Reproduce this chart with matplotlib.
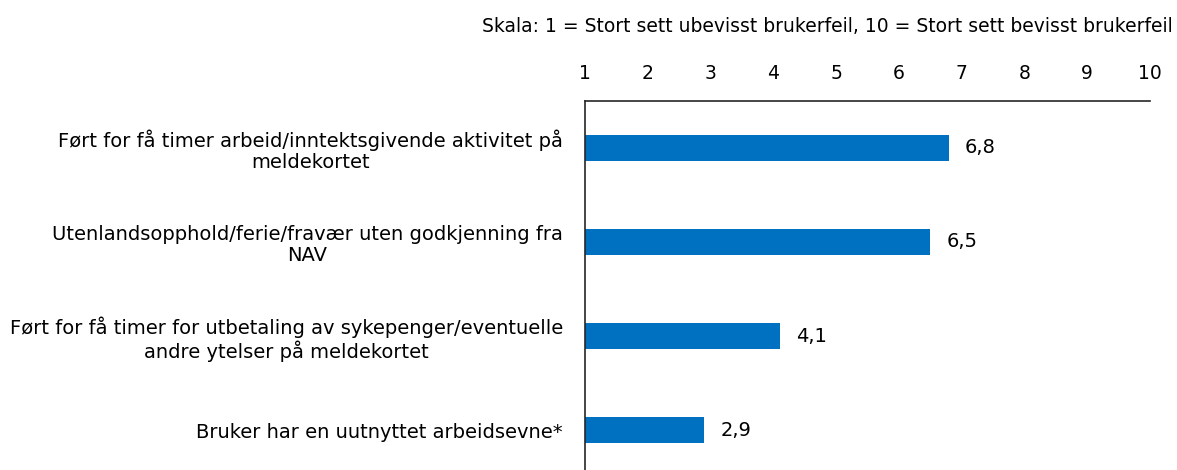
import matplotlib
matplotlib.use("Agg")
import matplotlib.pyplot as plt

categories = [
    "Ført for få timer arbeid/inntektsgivende aktivitet på\nmeldekortet",
    "Utenlandsopphold/ferie/fravær uten godkjenning fra\nNAV",
    "Ført for få timer for utbetaling av sykepenger/eventuelle\nandre ytelser på meldekortet",
    "Bruker har en uutnyttet arbeidsevne*",
]
values = [6.8, 6.5, 4.1, 2.9]
ticks = list(range(1, 11))
title = "Skala: 1 = Stort sett ubevisst brukerfeil, 10 = Stort sett bevisst brukerfeil"

plt.rcParams['font.family'] = ['DejaVu Sans']

fig = plt.figure(figsize=(11.77, 4.70), dpi=100)
ax = fig.add_axes([585/1177, -7/470, (1150-585)/1177, (477-101)/470])

ypos = list(range(len(categories)))
ax.barh(ypos, values, height=0.27, color="#0070C0", left=0)
ax.set_xlim(1, 10)
ax.set_ylim(3.5, -0.5)

ax.xaxis.tick_top()
ax.set_xticks(ticks)
ax.set_xticklabels([str(t) for t in ticks], fontsize=13.5)
ax.tick_params(axis='x', length=0, pad=13)
ax.set_yticks(ypos)
ax.set_yticklabels(categories, fontsize=14, multialignment='center', linespacing=1.15)
ax.tick_params(axis='y', length=0, pad=16)

for s in ['right', 'bottom']:
    ax.spines[s].set_visible(False)
for s in ['left', 'top']:
    ax.spines[s].set_color('#262626')
    ax.spines[s].set_linewidth(1.2)

for y, v in zip(ypos, values):
    ax.annotate(f"{v:.1f}".replace('.', ','), xy=(v, y), xytext=(16, 0),
                textcoords='offset pixels', va='center', ha='left', fontsize=14)

fig.text(1173/1177, 1 - 27/470, title, ha='right', va='center', fontsize=13.5)

fig.savefig("out.png", dpi=100)
